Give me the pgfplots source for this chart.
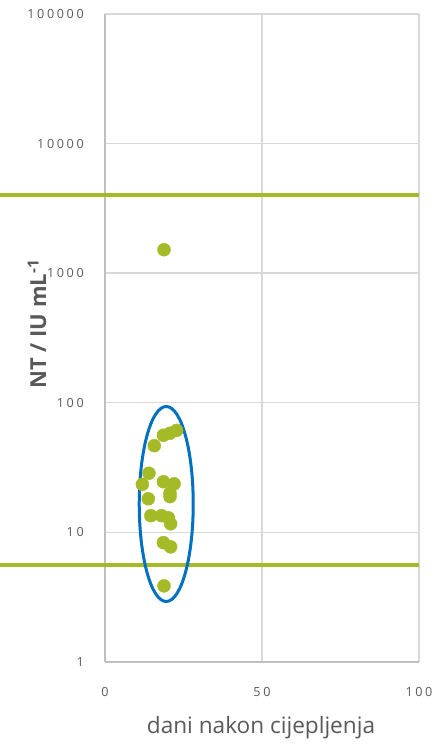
\documentclass[border=0pt]{standalone}
\usepackage{fontspec}
\setmainfont{Open Sans}
\newfontfamily\tickfont[LetterSpace=21]{Open Sans}
\usepackage{pgfplots}
\pgfplotsset{compat=1.18}
\definecolor{dotgreen}{RGB}{166,186,40}
\definecolor{ringblue}{RGB}{0,112,192}
\definecolor{txtgray}{RGB}{89,89,89}
\definecolor{axgray}{RGB}{191,191,191}
\definecolor{gridgray}{RGB}{217,217,217}
\begin{document}
\begin{tikzpicture}[x=1pt,y=1pt]
\useasboundingbox (0,0) rectangle (442,750);
\begin{axis}[
  at={(105pt,88.3pt)}, anchor=south west,
  scale only axis, width=314pt, height=647.7pt,
  xmin=0, xmax=100, ymode=log, ymin=1, ymax=100000,
  xtick={0,50,100}, ytick={1,10,100,1000,10000,100000},
  minor ytick={}, 
  log ticks with fixed point,
  /pgf/number format/assume math mode=true,
  /pgf/number format/1000 sep={},
  grid=major, major grid style={draw=gridgray, line width=1.3pt},
  axis x line*=bottom, axis y line*=left,
  axis line style={draw=axgray, line width=1.8pt, -},
  major tick length=0pt, tick style={draw=none},
  tick label style={font=\tickfont\fontsize{12.6}{14}\selectfont, text=txtgray, inner sep=0pt},
  yticklabel style={anchor=east, xshift=-21pt},
  xticklabel style={anchor=base, yshift=-34.5pt},
  clip=false,
]
\addplot[dotgreen, line width=4.5pt, forget plot] coordinates {(-33.5,4000) (100,4000)};
\addplot[dotgreen, line width=4.5pt, forget plot] coordinates {(-33.5,5.6) (100,5.6)};
\addplot[only marks, color=dotgreen, mark=*, mark size=6.5pt, mark options={draw=dotgreen, fill=dotgreen}] coordinates {
(18.8,1515)
(22.8,61) (20.7,58) (18.6,56) (15.7,46.5)
(14.0,28.5) (11.9,23.4) (18.6,24.5) (22.0,23.6) (20.7,20.0) (20.7,18.8)
(13.8,18.1) (14.6,13.4) (18.0,13.4) (20.2,12.9) (20.9,11.6)
(18.6,8.3) (20.9,7.7) (18.8,3.85)
};
\draw[ringblue, line width=3pt] (axis cs:19.5,16.5) ellipse [x radius=27pt, y radius=97.5pt];
\end{axis}
\node[rotate=90, font=\bfseries\fontsize{22}{24}\selectfont, text=txtgray] at (37,426) {NT / IU mL\textsuperscript{-1}};
\node[font=\fontsize{22.6}{26}\selectfont, text=txtgray] at (261,22.5) {dani nakon cijepljenja};
\end{tikzpicture}
\end{document}
